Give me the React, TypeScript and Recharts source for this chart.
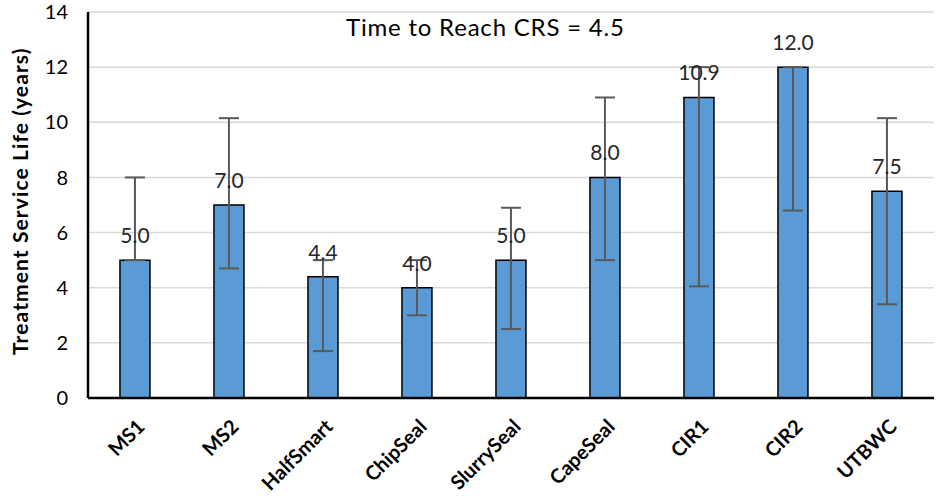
import { BarChart, Bar, XAxis, YAxis, CartesianGrid, ErrorBar, LabelList } from "recharts";

const treatments = ["MS1", "MS2", "HalfSmart", "ChipSeal", "SlurrySeal", "CapeSeal", "CIR1", "CIR2", "UTBWC"];
const serviceLife = [5.0, 7.0, 4.4, 4.0, 5.0, 8.0, 10.9, 12.0, 7.5];
const lowBound = [5.0, 4.7, 1.7, 3.0, 2.5, 5.0, 4.05, 6.8, 3.4];
const highBound = [8.0, 10.15, 5.0, 5.0, 6.9, 10.9, 12.0, 12.0, 10.15];
const yTicks = [0, 2, 4, 6, 8, 10, 12, 14];

const data = treatments.map((name, i) => ({
  name,
  life: serviceLife[i],
  err: [serviceLife[i] - lowBound[i], highBound[i] - serviceLife[i]],
}));

const font = "Lato, 'Open Sans', sans-serif";

function XTick(props: any) {
  const { x, y, payload } = props;
  return (
    <g transform={`translate(${x + 11}, ${y + 22})`}>
      <text
        x={0}
        y={0}
        transform="rotate(-45)"
        textAnchor="end"
        fontFamily={font}
        fontSize={20}
        fontWeight="bold"
        fill="#000"
      >
        {payload.value}
      </text>
    </g>
  );
}

export default function App() {
  return (
    <div style={{ position: "absolute", left: 0, top: 0, width: 936, height: 502, background: "#fff" }}>
      <BarChart
        width={936}
        height={502}
        data={data}
        margin={{ top: 12, right: 2, left: 0, bottom: 4 }}
        barCategoryGap="34%"
      >
        <CartesianGrid vertical={false} stroke="#d9d9d9" strokeWidth={1.5} />
        <XAxis
          dataKey="name"
          height={100}
          tickLine={false}
          axisLine={{ stroke: "#000", strokeWidth: 2.5 }}
          tick={(p: any) => <XTick {...p} />}
          interval={0}
        />
        <YAxis
          width={88}
          domain={[0, 14]}
          ticks={yTicks}
          tickLine={false}
          axisLine={{ stroke: "#000", strokeWidth: 2.5 }}
          tick={{ fill: "#000", fontSize: 20, fontFamily: font }}
          tickMargin={14}
          label={{
            value: "Treatment Service Life (years)",
            angle: -90,
            position: "insideLeft",
            dx: 16,
            dy: 150,
            style: { fontFamily: font, fontSize: 21, fontWeight: "bold", fill: "#000", letterSpacing: 1.1 },
          }}
        />
        <Bar dataKey="life" fill="#5b9bd5" stroke="#000" strokeWidth={1.5} isAnimationActive={false}>
          <LabelList
            dataKey="life"
            position="top"
            offset={17}
            formatter={(v: any) => Number(v).toFixed(1)}
            style={{ fontFamily: font, fontSize: 21, fill: "#262626" }}
          />
          <ErrorBar dataKey="err" width={10} stroke="#595959" strokeWidth={2} direction="y" />
        </Bar>
      </BarChart>
      <div
        style={{
          position: "absolute",
          left: 346,
          top: 12,
          fontFamily: font,
          fontSize: 24,
          letterSpacing: 0.8,
          color: "#000",
          whiteSpace: "nowrap",
        }}
      >
        Time to Reach CRS = 4.5
      </div>
    </div>
  );
}
